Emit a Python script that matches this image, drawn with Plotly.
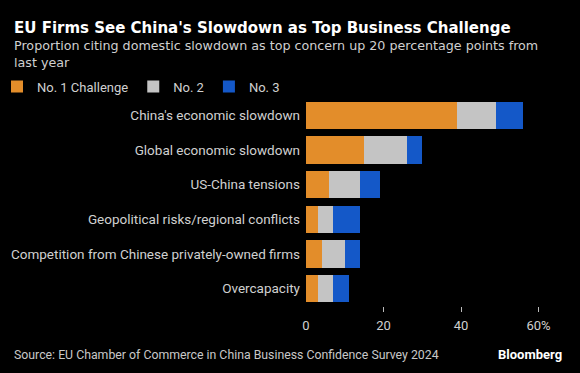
import plotly.graph_objects as go

categories = [
    "China's economic slowdown",
    "Global economic slowdown",
    "US-China tensions",
    "Geopolitical risks/regional conflicts",
    "Competition from Chinese privately-owned firms",
    "Overcapacity",
]
no1 = [39, 15, 6, 3, 4, 3]
no2 = [10, 11, 8, 4, 6, 4]
no3 = [7, 4, 5, 7, 4, 4]
series_names = ["No. 1 Challenge", "No. 2", "No. 3"]
tick_vals = [0, 20, 40, 60]
tick_text = ["0", "20", "40", "60%"]

colors = ["#E38D2A", "#C4C4C4", "#1458C8"]
FONT = "Roboto, sans-serif"
W, H = 580, 373
ML, MR, MT, MB = 306, 26, 98, 67
PW = W - ML - MR
PH = H - MT - MB

fig = go.Figure()
for name, vals, c in zip(series_names, [no1, no2, no3], colors):
    fig.add_trace(go.Bar(
        y=categories, x=vals, name=name, orientation="h",
        marker=dict(color=c, line=dict(width=0)),
    ))

def px_x(p):
    return (p - ML) / PW

def px_y(p):
    return 1 - (p - MT) / PH

fig.update_layout(
    width=W, height=H,
    margin=dict(l=ML, r=MR, t=MT, b=MB, pad=0, autoexpand=False),
    paper_bgcolor="#000000", plot_bgcolor="#000000",
    barmode="stack", bargap=0.21,
    font=dict(family=FONT, color="#D0D0D0", size=13),
    showlegend=True,
    legend=dict(
        orientation="h", x=px_x(-3), y=px_y(86.5), xanchor="left", yanchor="middle",
        font=dict(size=13, color="#D0D0D0", family=FONT),
        itemwidth=30, traceorder="normal", bgcolor="rgba(0,0,0,0)",
        itemclick=False,
    ),
    xaxis=dict(
        range=[0, 64], tickvals=tick_vals, ticktext=tick_text,
        showgrid=False, zeroline=False, showline=False, ticks="",
        tickfont=dict(size=13, color="#D0D0D0"), ticklabelstandoff=10,
    ),
    xaxis2=dict(
        range=[0, 64], overlaying="x", side="bottom", tickvals=[20, 40, 60],
        showticklabels=False, ticks="outside", ticklen=5, tickwidth=1,
        tickcolor="#BBBBBB", showgrid=False, zeroline=False, showline=False,
    ),
    yaxis=dict(
        autorange="reversed", showgrid=False, zeroline=False, showline=False,
        ticks="", tickfont=dict(size=13.5, color="#D0D0D0"), ticklabelstandoff=5,
    ),
)
# invisible trace to activate the tick-mark axis
fig.add_trace(go.Scatter(x=[None], y=[None], xaxis="x2", showlegend=False, hoverinfo="skip"))

fig.add_annotation(
    text="<b>EU Firms See China's Slowdown as Top Business Challenge</b>",
    xref="paper", yref="paper", x=px_x(12), y=px_y(28), xanchor="left", yanchor="middle",
    showarrow=False, font=dict(family="DejaVu Sans, sans-serif", size=15, color="#FFFFFF"),
)
fig.add_annotation(
    text="Proportion citing domestic slowdown as top concern up 20 percentage points from<br>last year",
    xref="paper", yref="paper", x=px_x(12), y=px_y(36), xanchor="left", yanchor="top",
    align="left", showarrow=False,
    font=dict(family="DejaVu Sans, sans-serif", size=12.7, color="#D0D0D0"),
)
fig.add_annotation(
    text="Source: EU Chamber of Commerce in China Business Confidence Survey 2024",
    xref="paper", yref="paper", x=px_x(12), y=px_y(355), xanchor="left", yanchor="middle",
    showarrow=False, font=dict(family=FONT, size=12.3, color="#C8C8C8"),
)
fig.add_annotation(
    text="<b>Bloomberg</b>",
    xref="paper", yref="paper", x=px_x(564), y=px_y(354), xanchor="right", yanchor="middle",
    showarrow=False, font=dict(family="Roboto, sans-serif", size=13, color="#FFFFFF"),
)

fig.write_html(
    "out.html",
    config={"displayModeBar": False},
    post_script="document.body.style.margin='0';document.body.style.padding='0';",
)
